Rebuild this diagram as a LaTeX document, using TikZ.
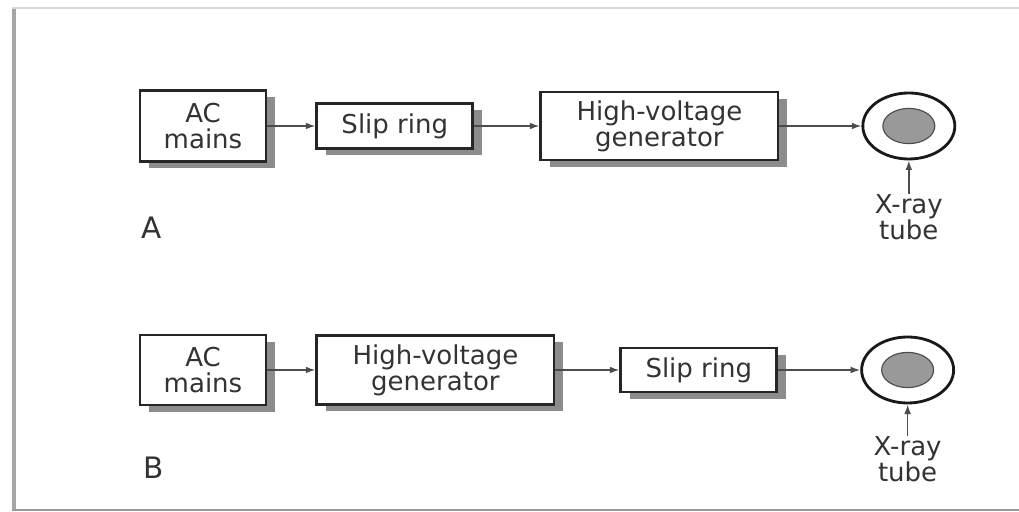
\documentclass[tikz,border=0pt]{standalone}
\usepackage{fontspec}
\setmainfont{DejaVu Sans}
\usepackage{tikz}
\usetikzlibrary{arrows.meta,positioning,shapes.geometric,shadows}

\begin{document}
\begin{tikzpicture}[
  block/.style={draw=black!85, line width=2pt, fill=white, text=black!80, align=center,
    font=\fontsize{18.5}{18.5}\selectfont, inner sep=0pt,
    drop shadow={shadow xshift=0.22cm, shadow yshift=-0.17cm, fill=black!45, opacity=1}},
  tube/.style={draw=black!90, ellipse, line width=2pt, fill=white, minimum width=2.3cm, minimum height=1.65cm, inner sep=0pt},
  core/.style={draw=black!70, ellipse, line width=0.8pt, fill=black!40, minimum width=1.3cm, minimum height=0.88cm, inner sep=0pt},
  caption/.style={text=black!80, align=center, font=\fontsize{18.5}{18.5}\selectfont, inner sep=0pt},
  arrow/.style={-{Latex[length=2.4mm, width=1.7mm]}, line width=1.1pt, draw=black!70}
]
\useasboundingbox (0,0) rectangle (25.475,-12.8);
% frame
\draw[line width=3pt, black!35] (0.35,-0.2) -- (0.35,-12.75);
\draw[line width=1.2pt, black!15] (0.3,-0.2) -- (25.475,-0.2);
\draw[line width=1.5pt, black!40] (0.3,-12.75) -- (25.475,-12.75);

% A
\node[block, minimum width=3.15cm, minimum height=1.78cm] (acA) at (5.075,-3.15) {AC\\mains};
\node[block, minimum width=3.9cm, minimum height=1.12cm, right=1.2cm of acA] (slipA) {Slip ring};
\node[block, minimum width=5.93cm, minimum height=1.7cm, right=1.63cm of slipA] (hvA) {High-voltage\\generator};
\node[tube, right=2.05cm of hvA] (tubeA) {};
\node[core] (coreA) at (tubeA.center) {};
\node[caption, below=0.85cm of tubeA] (xrayA) {X-ray\\tube};
\node[caption, font=\fontsize{21}{21}\selectfont] (labA) at (3.8,-5.7) {A};
\draw[arrow] (acA) -- (slipA);
\draw[arrow] (slipA) -- (hvA);
\draw[arrow] (hvA) -- (tubeA);
\draw[arrow] (xrayA) -- (tubeA);

% B
\node[block, minimum width=3.15cm, minimum height=1.75cm] (acB) at (5.075,-9.25) {AC\\mains};
\node[block, minimum width=5.93cm, minimum height=1.72cm, right=1.2cm of acB] (hvB) {High-voltage\\generator};
\node[block, minimum width=3.9cm, minimum height=1.1cm, right=1.6cm of hvB] (slipB) {Slip ring};
\node[tube, right=2.05cm of slipB] (tubeB) {};
\node[core] (coreB) at (tubeB.center) {};
\node[caption, below=0.8cm of tubeB] (xrayB) {X-ray\\tube};
\node[caption, font=\fontsize{21}{21}\selectfont] (labB) at (3.85,-11.7) {B};
\draw[arrow] (acB) -- (hvB);
\draw[arrow] (hvB) -- (slipB);
\draw[arrow] (slipB) -- (tubeB);
\draw[arrow] (xrayB) -- (tubeB);
\end{tikzpicture}
\end{document}
